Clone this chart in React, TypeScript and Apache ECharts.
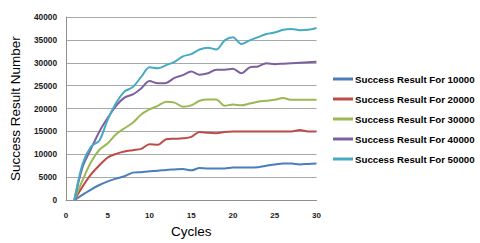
import React, { useEffect, useRef } from "react";
import * as echarts from "echarts";

const cycles = [1,2,3,4,5,6,7,8,9,10,11,12,13,14,15,16,17,18,19,20,21,22,23,24,25,26,27,28,29,30];
const s10000 = [0,1200,2300,3300,4100,4700,5200,6000,6100,6300,6400,6600,6700,6800,6500,7000,6900,6900,6900,7100,7100,7100,7200,7500,7800,8000,8000,7800,7900,8000];
const s20000 = [0,3000,5600,7600,9300,10100,10600,10900,11200,12200,12100,13300,13400,13500,13800,14900,14700,14600,14900,15000,15000,15000,15000,15000,15000,15000,15000,15300,15000,15000];
const s30000 = [0,4400,8300,11000,12400,14400,15700,16900,18700,19800,20600,21500,21300,20400,20700,21700,22000,22000,20600,20900,20700,21100,21500,21700,21900,22300,21900,21900,21900,21900];
const s40000 = [0,7300,11200,15000,18000,20600,22400,23100,24400,26000,25500,25600,26700,27300,28100,27400,27700,28500,28500,28700,27700,29000,29200,29900,29700,29800,29900,30000,30100,30200];
const s50000 = [0,8000,11700,13000,17600,21200,23700,24700,26900,29000,28800,29500,30200,31400,31900,32900,33300,32900,34900,35600,34100,34900,35600,36300,36600,37200,37400,37100,37200,37600];
const seriesNames = ["Success Result For 10000","Success Result For 20000","Success Result For 30000","Success Result For 40000","Success Result For 50000"];
const seriesColors = ["#4a7ebb","#be4b48","#98b954","#7d60a0","#46aac5"];

export default function App() {
  const ref = useRef<HTMLDivElement>(null);
  useEffect(() => {
    if (!ref.current) return;
    const chart = echarts.init(ref.current, null, { renderer: "svg" });
    const all = [s10000, s20000, s30000, s40000, s50000];
    chart.setOption({
      animation: false,
      backgroundColor: "#ffffff",
      grid: { left: 64.5, right: 163.5, top: 17, bottom: 39 },
      legend: {
        orient: "vertical",
        left: 333,
        top: 74,
        padding: 0,
        itemWidth: 20,
        itemHeight: 3,
        itemGap: 10,
        icon: "rect",
        textStyle: { fontFamily: "Liberation Sans", fontWeight: "bold", fontSize: 9.7, color: "#000", padding: [0, 0, 0, -3] },
        data: seriesNames,
      },
      xAxis: {
        type: "value",
        min: 0,
        max: 30,
        interval: 5,
        name: "Cycles",
        nameLocation: "middle",
        nameGap: 22,
        nameTextStyle: { fontFamily: "Liberation Sans", fontSize: 13.5, color: "#000", verticalAlign: "top" },
        axisLine: { show: true, lineStyle: { color: "#909090" } },
        axisTick: { show: false },
        splitLine: { show: false },
        axisLabel: { fontFamily: "Liberation Sans", fontWeight: "bold", fontSize: 8, color: "#1a1a1a", margin: 11 },
      },
      yAxis: {
        type: "value",
        min: 0,
        max: 40000,
        interval: 5000,
        name: "Success Result Number",
        nameLocation: "middle",
        nameGap: 44,
        nameTextStyle: { fontFamily: "Liberation Sans", fontSize: 13.5, color: "#000" },
        axisLine: { show: true, lineStyle: { color: "#909090" } },
        axisTick: { show: false },
        splitLine: { show: true, lineStyle: { color: "#a8a8a8", width: 1 } },
        axisLabel: { fontFamily: "Liberation Sans", fontWeight: "bold", fontSize: 8.3, color: "#1a1a1a", margin: 9, formatter: (v: number) => String(v) },
      },
      series: all.map((vals, i) => ({
        name: seriesNames[i],
        type: "line",
        smooth: 0.3,
        showSymbol: false,
        symbol: "none",
        color: seriesColors[i],
        lineStyle: { width: 2, color: seriesColors[i] },
        data: cycles.map((c, j) => [c, vals[j]]),
      })),
    });
    return () => chart.dispose();
  }, []);
  return <div ref={ref} style={{ width: 480, height: 243, position: "absolute", left: 0, top: 0 }} />;
}
